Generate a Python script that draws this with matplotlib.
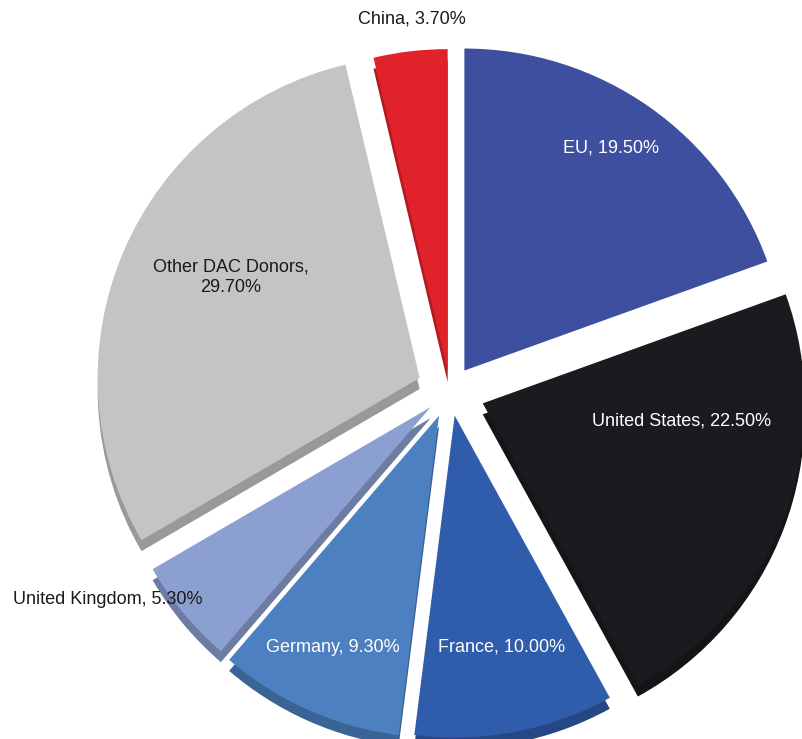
import numpy as np
import matplotlib.pyplot as plt
from matplotlib.colors import to_rgb

# donor shares of aid, clockwise from the top
donors = ['EU', 'United States', 'France', 'Germany', 'United Kingdom',
          'Other DAC Donors', 'China']
shares = [19.5, 22.5, 10.0, 9.3, 5.3, 29.7, 3.7]
colors = ['#3e4f9f', '#1b1b1f', '#2f5cab', '#4c80c0', '#8c9fd1', '#c4c4c4', '#e0232a']
# slice offsets from the centre, in pixels
explode = [25, 35, 25, 27, 25, 33, 20]


def darker(c, f=0.78):
    r, g, b = to_rgb(c)
    return (r * f, g * f, b * f)


W, H = 803, 739
fig = plt.figure(figsize=(W / 100, H / 100), dpi=100)
ax = fig.add_axes([0, 0, 1, 1])
plt.rcParams['font.family'] = ['Liberation Sans', 'DejaVu Sans']

cx, cy = 450, H - 391
R = 322
depth = 11

# side walls: a darker copy pushed down under the top faces
# (the EU slice faces away, so its wall stays hidden)
wall_colors = [darker(c) for c in colors]
wall_colors[0] = 'none'
ax.pie(shares, colors=wall_colors, explode=explode,
       startangle=90, counterclock=False, radius=R, center=(cx, cy - depth),
       wedgeprops=dict(linewidth=0))
ax.pie(shares, colors=colors, explode=explode,
       startangle=90, counterclock=False, radius=R, center=(cx, cy),
       wedgeprops=dict(linewidth=0))

ax.set_xlim(0, W)
ax.set_ylim(0, H)
ax.set_aspect('auto')
ax.axis('off')

# label positions (pixel space, y measured from the top)
label_pos = {
    'EU': (611, 148, 'white'),
    'United States': (682, 421, 'white'),
    'France': (502, 647, 'white'),
    'Germany': (333, 648, 'white'),
    'United Kingdom': (108, 600, '#1a1a1a'),
    'Other DAC Donors': (231, 277, '#1a1a1a'),
    'China': (412, 19, '#1a1a1a'),
}
for name, v in zip(donors, shares):
    x, y, c = label_pos[name]
    if name == 'Other DAC Donors':
        txt = f'{name},\n{v:.2f}%'
    else:
        txt = f'{name}, {v:.2f}%'
    ax.text(x, H - y, txt, color=c, fontsize=13, ha='center', va='center',
            linespacing=1.3)

fig.savefig('out.png', dpi=100)
